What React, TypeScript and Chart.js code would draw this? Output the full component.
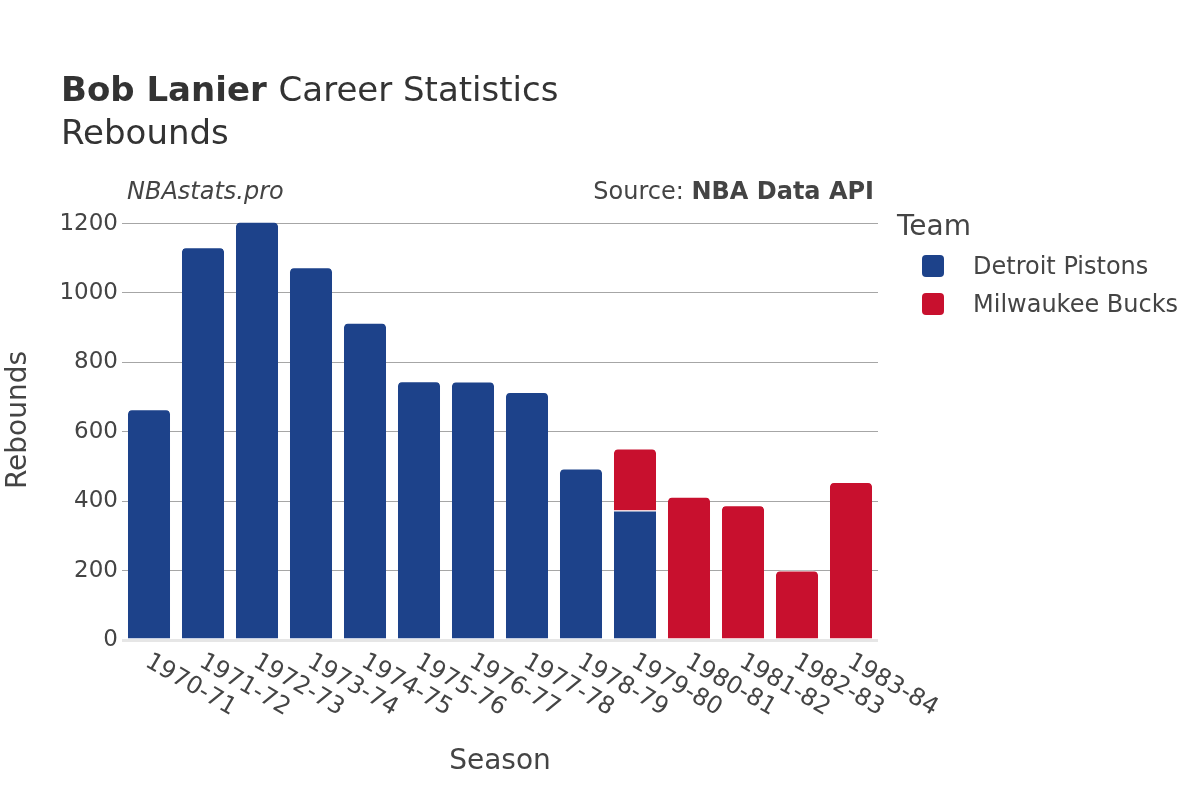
import React, { useEffect, useRef } from "react";
import { Chart, registerables } from "chart.js";

Chart.register(...registerables);

const seasons = ["1970-71","1971-72","1972-73","1973-74","1974-75","1975-76","1976-77","1977-78","1978-79","1979-80","1980-81","1981-82","1982-83","1983-84"];
const detroitRebounds = [665, 1132, 1205, 1074, 914, 746, 745, 715, 494, 373, null, null, null, null];
const milwaukeeRebounds = [null, null, null, null, null, null, null, null, null, 179, 413, 388, 200, 455];
const teamNames = ["Detroit Pistons", "Milwaukee Bucks"];
const teamColors = ["#1d428a", "#c8102e"];
const yTicks = [0, 200, 400, 600, 800, 1000, 1200];

const FONT = "'DejaVu Sans', sans-serif";
const TEXT = "#444";

const textPlugin = {
  id: "textPlugin",
  afterDraw(chart: any) {
    const ctx = chart.ctx;
    const area = chart.chartArea;
    const xs = chart.scales.x;
    ctx.save();
    ctx.fillStyle = "#333";
    // Title
    ctx.textBaseline = "alphabetic";
    ctx.textAlign = "left";
    ctx.font = `bold 34px ${FONT}`;
    ctx.fillText("Bob Lanier", 61, 101);
    const w = ctx.measureText("Bob Lanier ").width;
    ctx.font = `34px ${FONT}`;
    ctx.fillText("Career Statistics", 61 + w, 101);
    ctx.fillText("Rebounds", 61, 144);

    // annotations
    ctx.fillStyle = TEXT;
    ctx.textBaseline = "middle";
    ctx.font = `italic 24px ${FONT}`;
    ctx.fillText("NBAstats.pro", 127, 193);
    ctx.textAlign = "right";
    ctx.font = `bold 24px ${FONT}`;
    ctx.fillText("NBA Data API", 874, 193);
    const bw = ctx.measureText("NBA Data API").width;
    ctx.font = `24px ${FONT}`;
    ctx.fillText("Source: ", 874 - bw, 193);

    // x tick labels
    ctx.font = `24px ${FONT}`;
    ctx.textAlign = "left";
    ctx.textBaseline = "middle";
    seasons.forEach((s, i) => {
      const x = xs.getPixelForValue(i);
      ctx.save();
      ctx.translate(x - 2, area.bottom + 20);
      ctx.rotate(Math.PI / 6);
      ctx.fillText(s, 0, 0);
      ctx.restore();
    });

    // axis titles
    ctx.font = `28px ${FONT}`;
    ctx.textAlign = "center";
    ctx.fillText("Season", (area.left + area.right) / 2, 762);
    ctx.save();
    ctx.translate(19, (area.top + area.bottom) / 2);
    ctx.rotate(-Math.PI / 2);
    ctx.fillText("Rebounds", 0, 0);
    ctx.restore();

    // legend
    ctx.textAlign = "left";
    ctx.font = `28px ${FONT}`;
    ctx.fillText("Team", 897, 228);
    ctx.font = `24px ${FONT}`;
    teamNames.forEach((n, i) => {
      const cy = 266 + i * 38;
      ctx.fillStyle = teamColors[i];
      ctx.beginPath();
      (ctx as any).roundRect(922, cy - 11, 22, 22, 4);
      ctx.fill();
      ctx.fillStyle = TEXT;
      ctx.fillText(n, 973, cy + 1.5);
    });
    ctx.restore();
  },
};

export default function App() {
  const ref = useRef<HTMLCanvasElement>(null);
  useEffect(() => {
    if (!ref.current) return;
    const mk = (i: number, data: any) => ({
      label: teamNames[i],
      data,
      backgroundColor: teamColors[i],
      borderColor: "#ffffff",
      borderWidth: { top: 1, left: 0, right: 0, bottom: 0 } as any,
      borderRadius: 5,
      borderSkipped: "start" as any,
      barPercentage: 0.78,
      categoryPercentage: 1,
    });
    const chart = new Chart(ref.current, {
      type: "bar",
      data: {
        labels: seasons,
        datasets: [mk(0, detroitRebounds), mk(1, milwaukeeRebounds)],
      },
      options: {
        responsive: false,
        animation: false,
        devicePixelRatio: 1,
        layout: { padding: { top: 200, right: 322, bottom: 160, left: 0 } },
        plugins: { legend: { display: false }, tooltip: { enabled: false }, title: { display: false } },
        scales: {
          x: {
            stacked: true,
            grid: { display: false },
            border: { display: false },
            ticks: { display: false },
            afterFit: (s: any) => { s.height = 0; },
          },
          y: {
            stacked: true,
            min: 0,
            max: 1268,
            afterBuildTicks: (s: any) => { s.ticks = yTicks.map((v) => ({ value: v })); },
            border: { display: false },
            grid: {
              drawTicks: false,
              color: (c: any) => (c.tick && c.tick.value === 0 ? "#e6e6e6" : "#a6a6a6"),
              lineWidth: (c: any) => (c.tick && c.tick.value === 0 ? 3 : 1),
            },
            ticks: {
              padding: 4,
              color: TEXT,
              font: { family: FONT, size: 23 },
              callback: (v: any) => String(v),
            },
            afterFit: (s: any) => { s.width = 122; },
          },
        },
      },
      plugins: [textPlugin],
    });
    return () => chart.destroy();
  }, []);
  return (
    <div style={{ position: "absolute", left: 0, top: 0, width: 1200, height: 800, background: "#fff" }}>
      <canvas ref={ref} width={1200} height={800} />
    </div>
  );
}
